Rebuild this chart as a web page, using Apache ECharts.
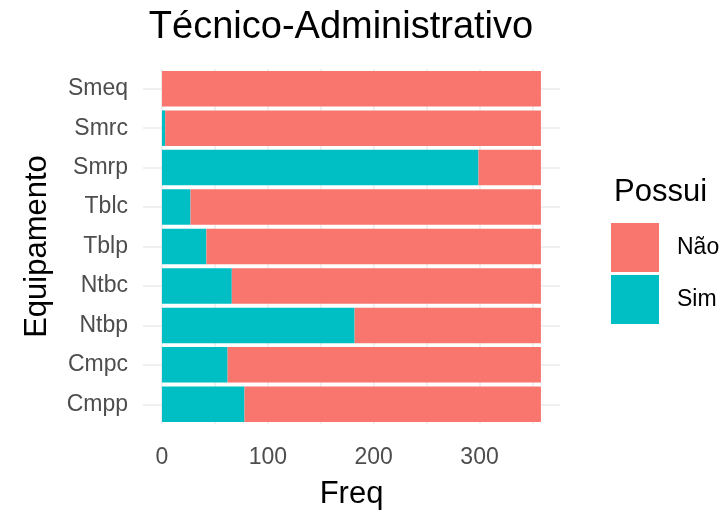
<!DOCTYPE html>
<html>
<head>
<meta charset="utf-8">
<script src="https://cdn.jsdelivr.net/npm/echarts@6/dist/echarts.min.js"></script>
<style>
  html, body { margin: 0; padding: 0; background: #fff; }
  #chart { width: 727px; height: 515px; }
</style>
</head>
<body>
<div id="chart"></div>
<script>
// equipamentos, de baixo para cima
const equipamentos = ['Cmpp', 'Cmpc', 'Ntbp', 'Ntbc', 'Tblp', 'Tblc', 'Smrp', 'Smrc', 'Smeq']
const sim = [78, 62, 182, 66, 42, 27, 299, 3, 0]
const nao = [280, 296, 176, 292, 316, 331, 59, 355, 358]
const ticksX = [0, 50, 100, 150, 200, 250, 300, 350]
const labelsX = [0, 100, 200, 300]
const linhasY = [0, 1, 2, 3, 4, 5, 6, 7, 8]

const font = 'Liberation Sans, Arial, sans-serif'
const gridColor = '#EBEBEB'

const chart = echarts.init(document.getElementById('chart'))

const option = {
  animation: false,
  title: [
    {
      text: 'Técnico-Administrativo',
      left: 336,
      top: 4,
      textAlign: 'center',
      textStyle: { fontFamily: font, fontSize: 38, fontWeight: 'normal', color: '#000' }
    },
    {
      text: 'Possui',
      left: 609,
      top: 172,
      textStyle: { fontFamily: font, fontSize: 31, fontWeight: 'normal', color: '#000' }
    }
  ],
  legend: {
    orient: 'vertical',
    left: 606,
    top: 218,
    itemWidth: 48,
    itemHeight: 49,
    itemGap: 3,
    icon: 'rect',
    data: ['Não', 'Sim'],
    textStyle: { fontFamily: font, fontSize: 23, color: '#000', padding: [0, 0, 0, 13] }
  },
  grid: { left: 143, right: 167, top: 69, bottom: 85, containLabel: false },
  xAxis: {
    type: 'value',
    min: -17.9,
    max: 376,
    name: 'Freq',
    nameLocation: 'middle',
    nameGap: 55,
    nameTextStyle: { fontFamily: font, fontSize: 31, color: '#000' },
    axisLine: { show: false },
    axisTick: { show: false, customValues: ticksX },
    axisLabel: {
      customValues: labelsX,
      margin: 22,
      fontFamily: font,
      fontSize: 23,
      color: '#4D4D4D'
    },
    splitLine: { show: true, lineStyle: { color: gridColor, width: 1.5 } }
  },
  yAxis: [
    {
      type: 'category',
      data: equipamentos,
      name: 'Equipamento',
      nameLocation: 'middle',
      nameRotate: 90,
      nameGap: 90,
      nameTextStyle: { fontFamily: font, fontSize: 31, color: '#000' },
      axisLine: { show: false },
      axisTick: { show: false },
      axisLabel: { margin: 15, fontFamily: font, fontSize: 23, color: '#4D4D4D' },
      splitLine: { show: false }
    },
    {
      // linhas horizontais no centro de cada categoria
      type: 'value',
      min: -0.5,
      max: 8.5,
      position: 'left',
      axisLine: { show: false },
      axisTick: { show: false, customValues: linhasY },
      axisLabel: { show: false, customValues: linhasY },
      splitLine: { show: true, lineStyle: { color: gridColor, width: 1.5 } }
    }
  ],
  series: [
    {
      name: 'Sim',
      type: 'bar',
      stack: 'total',
      data: sim,
      barCategoryGap: '10%',
      itemStyle: { color: '#00BFC4' }
    },
    {
      name: 'Não',
      type: 'bar',
      stack: 'total',
      data: nao,
      barCategoryGap: '10%',
      itemStyle: { color: '#F8766D' }
    }
  ]
}

chart.setOption(option)
</script>
</body>
</html>
